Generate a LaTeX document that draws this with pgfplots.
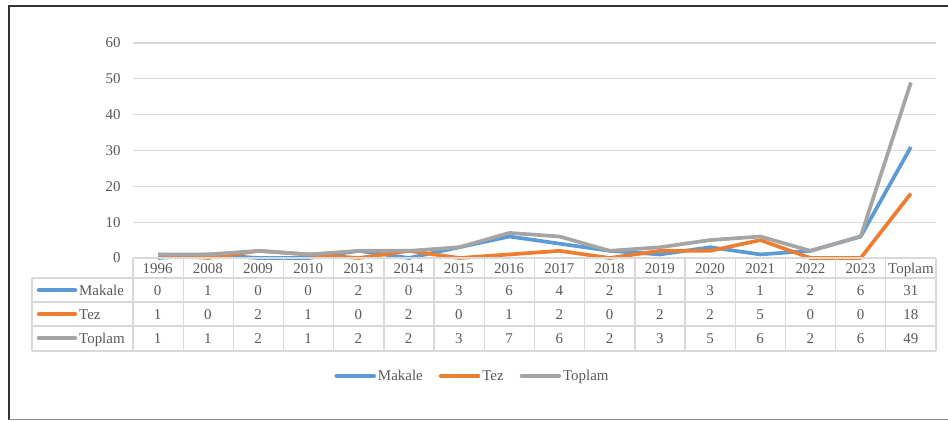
\documentclass[border=0pt]{standalone}
\usepackage{fontspec}
\setmainfont{Liberation Serif}
\usepackage{pgfplots}
\usepackage{pgfplotstable}
\pgfplotsset{compat=1.18}

\definecolor{mblue}{HTML}{5B9BD5}
\definecolor{morange}{HTML}{ED7D31}
\definecolor{mgray}{HTML}{A5A5A5}
\definecolor{txt}{HTML}{595959}
\definecolor{gridc}{HTML}{D9D9D9}

\pgfplotstableread{
x cat Makale Tez Toplam
0 1996 0 1 1
1 2008 1 0 1
2 2009 0 2 2
3 2010 0 1 1
4 2013 2 0 2
5 2014 0 2 2
6 2015 3 0 3
7 2016 6 1 7
8 2017 4 2 6
9 2018 2 0 2
10 2019 1 2 3
11 2020 3 2 5
12 2021 1 5 6
13 2022 2 0 2
14 2023 6 0 6
15 Toplam 31 18 49
}\data

\newcommand{\cfont}{\fontsize{15}{18}\selectfont}

\begin{document}
\begin{tikzpicture}
\useasboundingbox (0,0) rectangle (948bp,-421bp);

% chart
\begin{axis}[
    name=chart,
    at={(133bp,-258bp)}, anchor=south west,
    scale only axis, width=803bp, height=215bp,
    xmin=-0.5, xmax=15.5, ymin=0, ymax=60,
    ytick={0,10,...,60}, xtick=\empty,
    axis line style={draw=none}, tick style={draw=none},
    major tick length=0pt,
    ymajorgrids, grid style={gridc, line width=1.3bp},
    yticklabel style={font=\cfont, text=txt, xshift=-9bp, /pgf/number format/assume math mode=true},
    clip=false,
    every axis plot/.append style={line width=3.7bp, line join=round, mark=none},
    legend style={at={(0.4228,-0.5488)}, anchor=center, draw=none, fill=none,
        font=\cfont, text=txt, legend columns=-1,
        /tikz/every even column/.append style={column sep=14bp}},
    legend image code/.code={\draw[line width=4.5bp, line cap=round] (0bp,0bp) -- (37bp,0bp);},
]
\addplot[mblue] table[x=x, y=Makale] {\data};
\addplot[morange] table[x=x, y=Tez] {\data};
\addplot[mgray] table[x=x, y=Toplam] {\data};
\legend{Makale, Tez, Toplam}
\end{axis}

% data table
\begin{axis}[
    at={(32bp,-258bp)}, anchor=north west,
    scale only axis, width=904bp, height=93bp,
    xmin=-2.5, xmax=15.5, ymin=-93, ymax=0,
    hide axis, clip=false,
    nodes near coords,
    point meta=explicit symbolic,
    nodes near coords style={anchor=base, font=\cfont, text=txt, inner sep=0pt},
]
\addplot[draw=none, mark=none] table[x=x, y expr=-15, meta=cat] {\data};
\addplot[draw=none, mark=none] table[x=x, y expr=-37, meta=Makale] {\data};
\addplot[draw=none, mark=none] table[x=x, y expr=-61, meta=Tez] {\data};
\addplot[draw=none, mark=none] table[x=x, y expr=-85, meta=Toplam] {\data};
\end{axis}

% table grid
\begin{scope}[gridc, line width=1.3bp]
\foreach \i in {0,...,16}
  \draw (133bp+\i*50.1875bp,-258bp) -- (133bp+\i*50.1875bp,-351bp);
\draw (32bp,-278bp) -- (32bp,-351bp);
\draw (133bp,-258bp) -- (936bp,-258bp);
\draw (32bp,-278bp) -- (936bp,-278bp);
\draw (32bp,-302bp) -- (936bp,-302bp);
\draw (32bp,-326bp) -- (936bp,-326bp);
\draw (32bp,-351bp) -- (936bp,-351bp);
\end{scope}

% row labels
\begin{scope}[line width=4.5bp, line cap=round]
\draw[mblue] (39bp,-290bp) -- (75bp,-290bp);
\draw[morange] (39bp,-314bp) -- (75bp,-314bp);
\draw[mgray] (39bp,-338bp) -- (75bp,-338bp);
\end{scope}
\node[anchor=base west, inner sep=0pt, font=\cfont, text=txt] at (79bp,-295bp) {Makale};
\node[anchor=base west, inner sep=0pt, font=\cfont, text=txt] at (79bp,-319bp) {Tez};
\node[anchor=base west, inner sep=0pt, font=\cfont, text=txt] at (79bp,-343bp) {Toplam};

% frame
\draw[line width=2bp, black!80] (948bp,-5.5bp) -- (8.5bp,-5.5bp) -- (8.5bp,-419.5bp);
\draw[line width=1.3bp, black!45] (8.5bp,-419.5bp) -- (948bp,-419.5bp);
\end{tikzpicture}
\end{document}
